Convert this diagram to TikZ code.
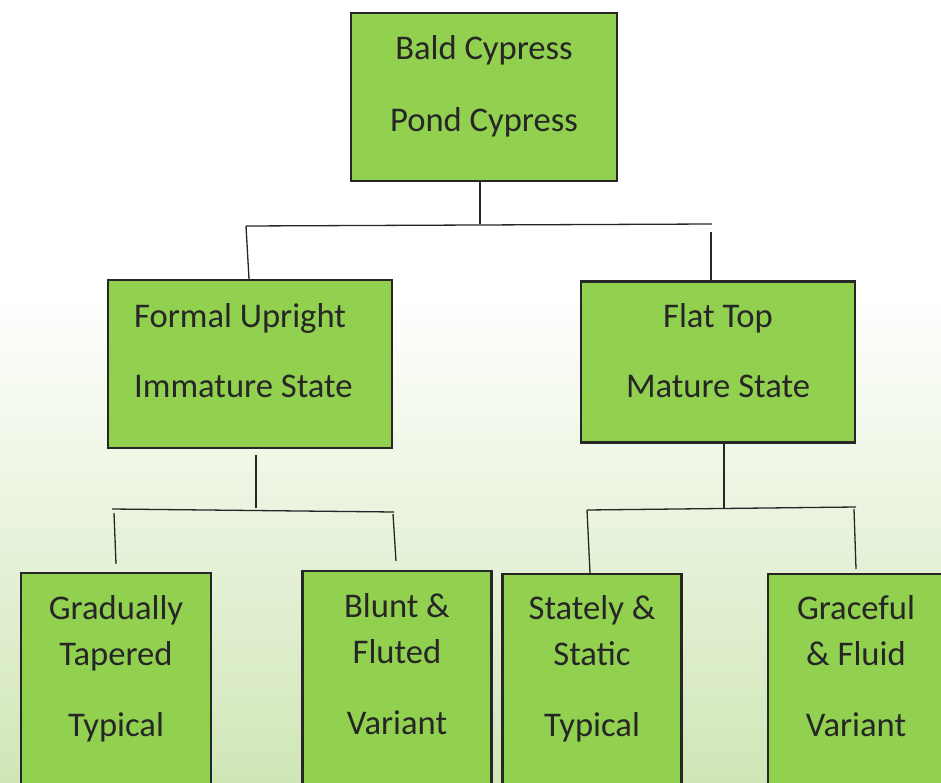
\documentclass[tikz,border=0pt]{standalone}
\usepackage{fontspec}
\setmainfont{Carlito}
\usetikzlibrary{positioning}

\definecolor{leaf}{RGB}{146,208,80}
\definecolor{edge}{RGB}{38,38,38}
\definecolor{paleleaf}{RGB}{208,230,183}

\begin{document}
\begin{tikzpicture}[
    x=1pt, y=-1pt,
    box/.style={
        rectangle,
        draw=edge,
        fill=leaf,
        line width=2.2pt,
        inner sep=0pt
    },
    txt/.style={
        align=center,
        inner sep=0pt,
        anchor=north,
        text=edge,
        font=\fontsize{34.6}{46}\selectfont
    },
    link/.style={draw=edge, line width=1.3pt}
]

    % Page and background wash
    \useasboundingbox (0,0) rectangle (941,783);
    \clip (0,0) rectangle (941,783);
    \fill[white] (0,0) rectangle (941,290);
    \shade[top color=white, bottom color=paleleaf] (0,290) rectangle (941,783);

    % Top box
    \node[box, minimum width=266pt, minimum height=168pt] (cypress) at (484,97) {};
    \node[txt] (cypresstxt) at (484,35) {Bald Cypress\\[26pt]Pond Cypress};

    % Second row
    \node[box, minimum width=284pt, minimum height=168pt] (formal) at (250,364) {};
    \node[txt, align=left, anchor=north west] (formaltxt) at (134,303)
        {Formal Upright\\[24pt]Immature State};

    \node[box, minimum width=274pt, minimum height=161pt] (flattop) at (718,362) {};
    \node[txt] (flattoptxt) at (718,303) {Flat Top\\[24pt]Mature State};

    % Bottom row (runs off the page)
    \node[box, minimum width=190pt, minimum height=260pt] (tapered) at (116,703) {};
    \node[txt] (taperedtxt) at (116,595) {Gradually\\Tapered\\[25pt]Typical};

    \node[box, minimum width=189pt, minimum height=260pt] (blunt) at (397,701) {};
    \node[txt] (blunttxt) at (397,593) {Blunt \&\\Fluted\\[25pt]Variant};

    \node[box, minimum width=179pt, minimum height=260pt] (stately) at (592,704) {};
    \node[txt] (statelytxt) at (592,595) {Stately \&\\Static\\[25pt]Typical};

    \node[box, minimum width=190pt, minimum height=260pt] (graceful) at (863,704) {};
    \node[txt] (gracefultxt) at (856,595) {Graceful\\\& Fluid\\[25pt]Variant};

    % Joints of the hand drawn brackets
    \coordinate (topjoin) at (480,224);
    \coordinate (topleft) at (246,226);
    \coordinate (topright) at (712,224);
    \coordinate (toprightleg) at (711,232);

    \coordinate (formalstem) at (256,455);
    \coordinate (formaljoin) at (256,508);
    \coordinate (formalleft) at (112,509);
    \coordinate (formalright) at (394,512);
    \coordinate (formalleftleg) at (114,513);
    \coordinate (formalleftend) at (116,564);
    \coordinate (formalrightleg) at (393,514);
    \coordinate (formalrightend) at (396,561);

    \coordinate (flatjoin) at (724,508);
    \coordinate (flatleft) at (587,510);
    \coordinate (flatright) at (856,507);
    \coordinate (flatrightleg) at (854,509);
    \coordinate (flatrightend) at (856,569);

    % Connectors
    \draw[link] (cypress.south -| topjoin) -- (topjoin);
    \draw[link] (topleft) -- (topright);
    \draw[link] (topleft) -- ([xshift=-1pt]formal.north);
    \draw[link] (toprightleg) -- (toprightleg |- flattop.north);

    \draw[link] (formalstem) -- (formaljoin);
    \draw[link] (formalleft) -- (formalright);
    \draw[link] (formalleftleg) -- (formalleftend);
    \draw[link] (formalrightleg) -- (formalrightend);

    \draw[link] (flattop.south -| flatjoin) -- (flatjoin);
    \draw[link] (flatleft) -- (flatright);
    \draw[link] (flatleft) -- ([xshift=-2pt]stately.north);
    \draw[link] (flatrightleg) -- (flatrightend);

\end{tikzpicture}
\end{document}
